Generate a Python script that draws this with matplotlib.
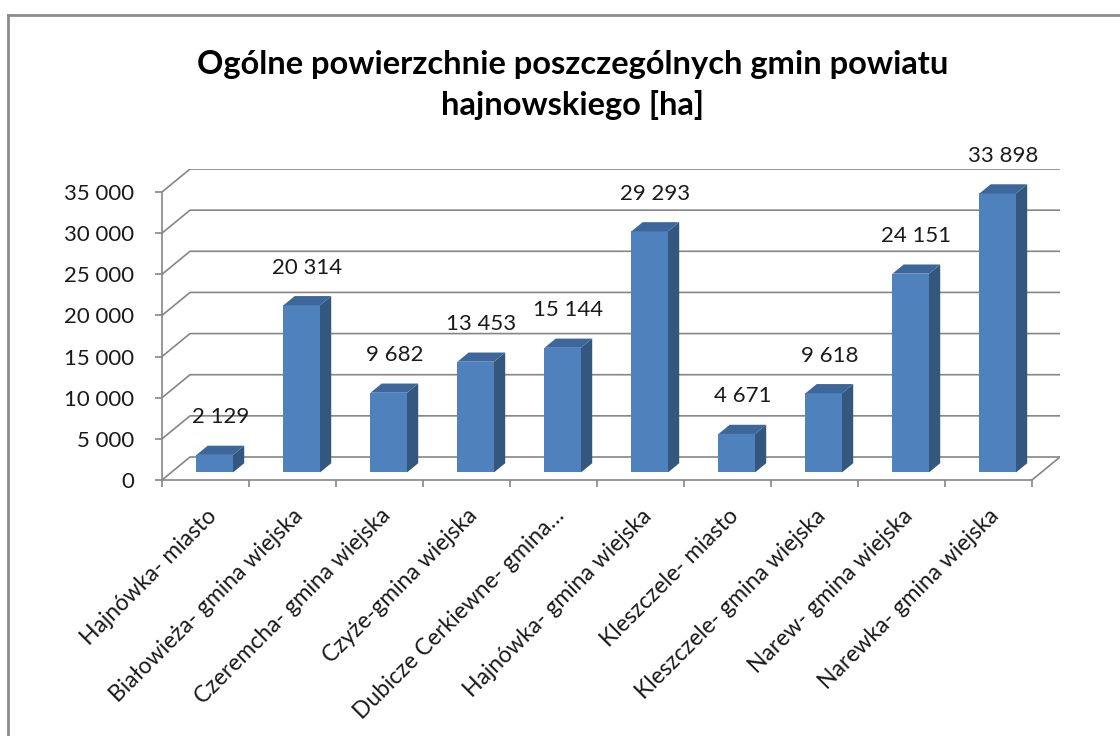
import matplotlib.pyplot as plt
from matplotlib.patches import Polygon

plt.rcParams['font.family'] = ['Lato', 'DejaVu Sans']

# Data
categories = [
    "Hajnówka- miasto",
    "Białowieża- gmina wiejska",
    "Czeremcha- gmina wiejska",
    "Czyże-gmina wiejska",
    "Dubicze Cerkiewne- gmina…",
    "Hajnówka- gmina wiejska",
    "Kleszczele- miasto",
    "Kleszczele- gmina wiejska",
    "Narew- gmina wiejska",
    "Narewka- gmina wiejska",
]
values = [2129, 20314, 9682, 13453, 15144, 29293, 4671, 9618, 24151, 33898]
y_ticks = [0, 5000, 10000, 15000, 20000, 25000, 30000, 35000]
title = "Ogólne powierzchnie poszczególnych gmin powiatu\nhajnowskiego [ha]"

# 3D look: depth offset of the back wall (in data units)
DX = 0.322
DY = 2795
F0, F1 = 0.33, 0.73          # front / back depth of bars
BAR_W = 0.42
FRONT = "#4F81BD"
SIDE = "#34577F"
TOP = "#3D679A"
GRID = "#868686"
TXT = "#1A1A1A"

fig = plt.figure(figsize=(11.2, 7.36), dpi=100)
ax = fig.add_axes([162 / 1120, 1 - 480 / 736, 898 / 1120, 311 / 736])
ax.set_xlim(0, len(values) + DX)
ax.set_ylim(0, max(y_ticks) + DY)

# chart border
fig.add_artist(plt.Line2D([8 / 1120, 8 / 1120], [0, 1 - 15 / 736], color="#8C8C8C", lw=2))
fig.add_artist(plt.Line2D([8 / 1120, 1], [1 - 15 / 736, 1 - 15 / 736], color="#8C8C8C", lw=2))

# walls: gridlines on side and back walls
n = len(values)
for v in y_ticks:
    ax.plot([0, DX, n + DX], [v, v + DY, v + DY], color=GRID, lw=1.2, zorder=1)
# floor right edge
ax.plot([n, n + DX], [0, DY], color=GRID, lw=1.2, zorder=1)

# bars
dx = (F1 - F0) * DX
dy = (F1 - F0) * DY
for i, v in enumerate(values):
    xl = i + 0.5 - BAR_W / 2 + F0 * DX
    xr = xl + BAR_W
    b = F0 * DY
    ax.bar(xl, v, width=BAR_W, bottom=b, align="edge", color=FRONT, lw=0, zorder=3)
    ax.add_patch(Polygon([(xr, b), (xr, b + v), (xr + dx, b + v + dy), (xr + dx, b + dy)],
                         closed=True, fc=SIDE, lw=0, zorder=3))
    ax.add_patch(Polygon([(xl, b + v), (xr, b + v), (xr + dx, b + v + dy), (xl + dx, b + v + dy)],
                         closed=True, fc=TOP, lw=0, zorder=3))
    ax.annotate(f"{v:,}".replace(",", " "), (xl + BAR_W / 2 + dx / 2, b + v),
                xytext=(0, 27), textcoords="offset points", ha="center", va="center",
                fontsize=16, color=TXT, zorder=4)

for s in ["top", "right"]:
    ax.spines[s].set_visible(False)
ax.spines["left"].set_bounds(0, max(y_ticks))
ax.spines["bottom"].set_bounds(0, n)
for s in ["left", "bottom"]:
    ax.spines[s].set_color(GRID)
    ax.spines[s].set_linewidth(1.2)

ax.set_yticks(y_ticks)
ax.set_yticklabels([f"{t:,}".replace(",", " ") for t in y_ticks], fontsize=16, color=TXT)
ax.tick_params(axis="y", direction="out", length=5, width=1.2, color=GRID, pad=15)

ax.set_xticks(range(n + 1))
ax.set_xticklabels([])
ax.tick_params(axis="x", which="major", direction="out", length=5, width=1.2, color=GRID)
ax.set_xticks([i + 0.5 for i in range(n)], minor=True)
ax.set_xticklabels(categories, minor=True, rotation=45, ha="right", va="top",
                   rotation_mode="anchor", fontsize=16.5, color=TXT)
ax.tick_params(axis="x", which="minor", length=0, pad=18)

fig.text(0.511, 1 - 85 / 736, title, ha="center", va="center", fontsize=23.5,
         fontweight="bold", linespacing=1.45, color="#000000")

fig.savefig("out.png", dpi=100, facecolor="white")
